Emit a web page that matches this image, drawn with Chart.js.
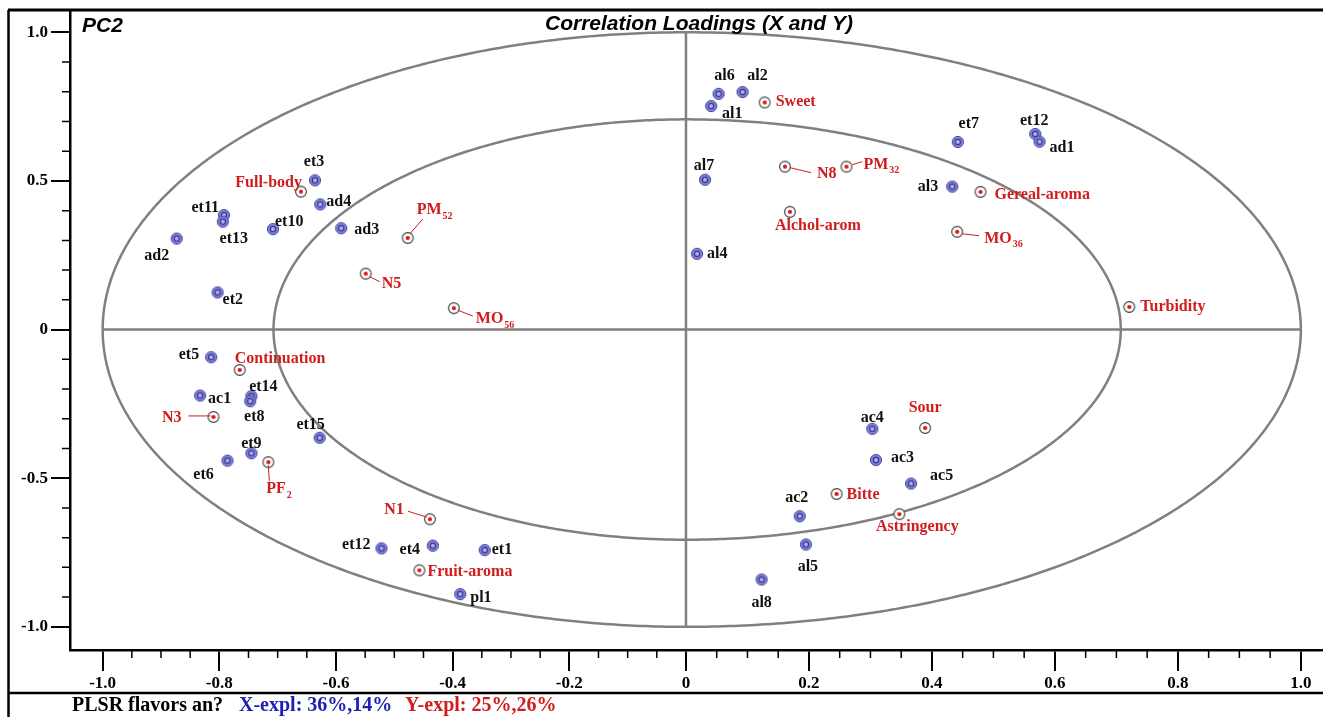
<!DOCTYPE html>
<html>
<head>
<meta charset="utf-8">
<script src="https://cdn.jsdelivr.net/npm/chart.js@4.4.1/dist/chart.umd.min.js"></script>
<style>
  html, body { margin: 0; padding: 0; background: #fff; }
  canvas { display: block; }
</style>
</head>
<body>
<canvas id="loadings" width="1323" height="717"></canvas>
<script>
// ---- X-variable loadings (PC1, PC2) ----
const xVarNames = ['al6','al2','al1','al7','al4','et7','et12','ad1','al3','et3','ad4','et11','et13','et10','ad3','ad2','et2','et5','ac1','et14','et8','et15','et9','et6','et12','et4','et1','pl1','ac4','ac3','ac5','ac2','al5','al8'];
const xVarPC1 = [0.053, 0.092, 0.041, 0.031, 0.018, 0.442, 0.568, 0.575, 0.433, -0.636, -0.627, -0.792, -0.794, -0.708, -0.591, -0.873, -0.803, -0.814, -0.833, -0.745, -0.747, -0.628, -0.745, -0.786, -0.522, -0.434, -0.345, -0.387, 0.303, 0.309, 0.366, 0.185, 0.195, 0.123];
const xVarPC2 = [0.793, 0.799, 0.752, 0.504, 0.255, 0.631, 0.658, 0.632, 0.481, 0.502, 0.421, 0.385, 0.363, 0.338, 0.341, 0.306, 0.125, -0.093, -0.222, -0.224, -0.241, -0.364, -0.416, -0.441, -0.736, -0.727, -0.742, -0.890, -0.334, -0.439, -0.518, -0.628, -0.723, -0.841];

// ---- Y-variable loadings (PC1, PC2) ----
const yVarNames = ['Sweet','N8','PM_32','Alchol-arom','Gereal-aroma','MO_36','Turbidity','PM_52','Full-body','N5','MO_56','Continuation','N3','PF_2','N1','Fruit-aroma','Sour','Bitte','Astringency'];
const yVarPC1 = [0.128, 0.161, 0.261, 0.169, 0.479, 0.441, 0.721, -0.477, -0.660, -0.549, -0.398, -0.765, -0.810, -0.716, -0.439, -0.457, 0.389, 0.245, 0.347];
const yVarPC2 = [0.764, 0.548, 0.548, 0.396, 0.463, 0.329, 0.076, 0.308, 0.464, 0.188, 0.072, -0.136, -0.294, -0.446, -0.638, -0.810, -0.331, -0.553, -0.621];

// ---- axes ----
const xTickValues = [-1.0, -0.8, -0.6, -0.4, -0.2, 0, 0.2, 0.4, 0.6, 0.8, 1.0];
const yTickValues = [-1.0, -0.5, 0, 0.5, 1.0];
const circleRadii = [1.0, Math.SQRT1_2];   // 100% and 50% explained variance

// label placement: [align, dx, dy] relative to the marker (align: l = start, c = centre, r = end)
const xLabelPlace = [
  ['c',6,-18],['c',15,-16],['c',21,8],['c',-1,-14],['l',10,0],['c',11,-18],['c',-1,-13],['l',10,6],['r',-14,0],
  ['c',-1,-18],['l',6,-3],['r',-5,-7],['c',11,17],['l',2,-7],['l',13,2],['c',-20,17],['l',5,7],['r',-12,-2],
  ['l',8,3],['c',12,-9],['c',4,16],['c',-9,-13],['c',0,-9],['c',-24,14],['r',-11,-3],['c',-23,4],['l',7,0],
  ['l',10,4],['c',0,-11],['l',15,-2],['l',19,-8],['c',-3,-18],['c',2,22],['c',0,23]
];
const yLabelPlace = [
  ['l',11,-1],['l',32,7],['l',17,-2],['c',28,14],['l',14,3],['l',27,7],['l',11,0],['l',9,-28],['r',1,-9],
  ['l',16,10],['l',22,11],['l',-5,-11],['r',-32,1],['l',-2,27],['r',-26,-9],['l',8,2],['c',0,-20],['l',10,1],['c',18,13]
];
// thin connector from marker to label, [x1,y1,x2,y2] relative to the marker
const yLeaders = [
  null,[5,1,26,6],[6,-2,16,-5],null,null,[5,2,22,4],null,[2,-4,15,-19],null,
  [4,3,14,8],[4,2,19,8],null,[-25,-1,-3,-1],[0,3,1,19],[-22,-8,-3,-2],null,null,null,null
];

const RED = '#d01c1c';
const BLUE_TXT = '#1e1eb0';
const GREY = '#808080';
const SERIF = '"Liberation Serif", "Times New Roman", serif';
const SANS = '"Liberation Sans", Arial, sans-serif';

// ---- linear scale that does not reserve extra room for edge labels ----
class TightLinearScale extends Chart.LinearScale {
  _calculatePadding() {
    this.paddingLeft = 0; this.paddingRight = 0;
    this.paddingTop = 0; this.paddingBottom = 0;
  }
}
TightLinearScale.id = 'tightLinear';
TightLinearScale.defaults = Chart.LinearScale.defaults;

// ---- x scale whose negative and positive halves have their own pixel density ----
class SplitLinearScale extends TightLinearScale {
  getPixelForValue(value) {
    if (value === null || value === undefined || isNaN(value)) return NaN;
    const f = this.options.zeroAt;
    const dec = value < 0
      ? f * (value - this.min) / (0 - this.min)
      : f + (1 - f) * value / this.max;
    return this.getPixelForDecimal(dec);
  }
  getValueForPixel(pixel) {
    const f = this.options.zeroAt;
    const dec = this.getDecimalForPixel(pixel);
    return dec < f ? this.min + (dec / f) * (0 - this.min) : (dec - f) / (1 - f) * this.max;
  }
}
SplitLinearScale.id = 'splitLinear';
SplitLinearScale.defaults = Chart.LinearScale.defaults;
Chart.register(TightLinearScale, SplitLinearScale);

// ---- marker sprites ----
function makeMarker(kind) {
  const c = document.createElement('canvas');
  c.width = 14; c.height = 14;
  const g = c.getContext('2d');
  if (kind === 'x') {
    g.beginPath(); g.arc(7, 7, 5.6, 0, Math.PI * 2);
    g.fillStyle = '#8282da'; g.fill();
    g.lineWidth = 1; g.strokeStyle = '#4a4aa6'; g.stroke();
    g.beginPath(); g.arc(7, 7, 2.6, 0, Math.PI * 2);
    g.fillStyle = '#b4b4f0'; g.fill();
    g.lineWidth = 1.2; g.strokeStyle = '#34348e'; g.stroke();
  } else {
    g.beginPath(); g.arc(7, 7, 5.4, 0, Math.PI * 2);
    g.fillStyle = '#ffffff'; g.fill();
    g.lineWidth = 1.1; g.strokeStyle = '#3a3a3a'; g.stroke();
    g.beginPath(); g.arc(7, 7, 2.1, 0, Math.PI * 2);
    g.fillStyle = '#e01010'; g.fill();
  }
  return c;
}

const fmtTick = v => (Math.abs(v) < 1e-9 ? '0' : v.toFixed(1));

function drawName(ctx, name, x, y, align, color) {
  const parts = name.split('_');
  const base = parts[0], sub = parts[1];
  const mainFont = 'bold 16px ' + SERIF, subFont = 'bold 10px ' + SERIF;
  ctx.font = mainFont;
  const wb = ctx.measureText(base).width;
  let ws = 0;
  if (sub) { ctx.font = subFont; ws = ctx.measureText(sub).width + 1; }
  const total = wb + ws;
  const left = align === 'l' ? x : (align === 'r' ? x - total : x - total / 2);
  ctx.fillStyle = color;
  ctx.textAlign = 'left';
  ctx.textBaseline = 'middle';
  ctx.font = mainFont;
  ctx.fillText(base, left, y);
  if (sub) { ctx.font = subFont; ctx.fillText(sub, left + wb + 1, y + 6); }
}

// circles and the two reference axes, drawn through the scales
const guidePlugin = {
  id: 'guides',
  beforeDatasetsDraw(chart) {
    const { ctx, scales: { x, y } } = chart;
    ctx.save();
    ctx.strokeStyle = GREY;
    ctx.lineWidth = 2.5;
    circleRadii.forEach(r => {
      ctx.beginPath();
      for (let i = 0; i <= 720; i++) {
        const t = i * Math.PI / 360;
        const px = x.getPixelForValue(r * Math.cos(t));
        const py = y.getPixelForValue(r * Math.sin(t));
        if (i === 0) ctx.moveTo(px, py); else ctx.lineTo(px, py);
      }
      ctx.closePath();
      ctx.stroke();
    });
    ctx.beginPath();
    ctx.moveTo(x.getPixelForValue(-1), y.getPixelForValue(0));
    ctx.lineTo(x.getPixelForValue(1), y.getPixelForValue(0));
    ctx.moveTo(x.getPixelForValue(0), y.getPixelForValue(-1));
    ctx.lineTo(x.getPixelForValue(0), y.getPixelForValue(1));
    ctx.stroke();
    ctx.restore();
  }
};

// variable names next to their markers
const labelPlugin = {
  id: 'names',
  afterDatasetsDraw(chart) {
    const ctx = chart.ctx;
    ctx.save();
    const xm = chart.getDatasetMeta(0).data;
    xm.forEach((el, i) => {
      const p = xLabelPlace[i];
      drawName(ctx, xVarNames[i], el.x + p[1], el.y + p[2], p[0], '#111');
    });
    const ym = chart.getDatasetMeta(1).data;
    ym.forEach((el, i) => {
      const p = yLabelPlace[i];
      const ln = yLeaders[i];
      if (ln) {
        ctx.strokeStyle = RED; ctx.lineWidth = 1;
        ctx.beginPath();
        ctx.moveTo(el.x + ln[0], el.y + ln[1]);
        ctx.lineTo(el.x + ln[2], el.y + ln[3]);
        ctx.stroke();
      }
      drawName(ctx, yVarNames[i], el.x + p[1], el.y + p[2], p[0], RED);
    });
    ctx.restore();
  }
};

// minor ticks, frame, headings and footer
const framePlugin = {
  id: 'frame',
  afterDraw(chart) {
    const { ctx, chartArea: a, scales: { x, y } } = chart;
    const W = chart.width, H = chart.height;
    ctx.save();
    ctx.strokeStyle = '#000';
    ctx.lineWidth = 1.5;
    ctx.beginPath();
    for (let k = -19; k <= 19; k++) {
      if (k % 4 === 0) continue;
      const px = x.getPixelForValue(k * 0.05);
      ctx.moveTo(px, a.bottom); ctx.lineTo(px, a.bottom + 8);
    }
    for (let k = -9; k <= 9; k++) {
      if (k % 5 === 0) continue;
      const py = y.getPixelForValue(k * 0.1);
      ctx.moveTo(a.left, py); ctx.lineTo(a.left - 8, py);
    }
    ctx.stroke();

    ctx.lineWidth = 3;
    ctx.beginPath();
    ctx.moveTo(8, a.top); ctx.lineTo(W, a.top);
    ctx.stroke();
    ctx.lineWidth = 2.5;
    ctx.beginPath();
    ctx.moveTo(8.5, a.top); ctx.lineTo(8.5, H);
    ctx.moveTo(8, 693); ctx.lineTo(W, 693);
    ctx.stroke();

    ctx.fillStyle = '#000';
    ctx.textBaseline = 'middle';
    ctx.font = 'italic bold 21px ' + SANS;
    ctx.textAlign = 'left';
    ctx.fillText('PC2', 82, 26);
    ctx.textAlign = 'center';
    ctx.fillText('Correlation Loadings (X and Y)', 699, 24);

    ctx.textAlign = 'left';
    ctx.font = 'bold 20px ' + SERIF;
    ctx.fillStyle = '#000';
    ctx.fillText('PLSR flavors an?', 72, 706);
    ctx.fillStyle = BLUE_TXT;
    ctx.fillText('X-expl: 36%,14%', 239, 706);
    ctx.fillStyle = RED;
    ctx.fillText('Y-expl: 25%,26%', 405, 706);
    ctx.restore();
  }
};

const xPoints = xVarPC1.map((v, i) => ({ x: v, y: xVarPC2[i] }));
const yPoints = yVarPC1.map((v, i) => ({ x: v, y: yVarPC2[i] }));

new Chart(document.getElementById('loadings'), {
  type: 'scatter',
  data: {
    datasets: [
      { label: 'X', data: xPoints, pointStyle: makeMarker('x'), pointRadius: 6 },
      { label: 'Y', data: yPoints, pointStyle: makeMarker('y'), pointRadius: 6 }
    ]
  },
  options: {
    responsive: false,
    animation: false,
    events: [],
    layout: { autoPadding: false, padding: { left: 8, top: 10, right: 0, bottom: 24 } },
    plugins: { legend: { display: false }, tooltip: { enabled: false }, title: { display: false } },
    scales: {
      x: {
        type: 'splitLinear',
        zeroAt: 0.4916,
        min: -1.056,
        max: 1.036,
        afterBuildTicks: s => { s.ticks = xTickValues.map(v => ({ value: v })); },
        afterFit: s => { s.height = 43; },
        grid: { drawOnChartArea: false, drawTicks: true, tickLength: 21, color: '#000', lineWidth: 2 },
        border: { display: true, color: '#000', width: 2.5 },
        ticks: {
          autoSkip: false, maxRotation: 0, padding: 2, color: '#000',
          font: { family: SERIF, weight: 'bold', size: 17 },
          callback: v => fmtTick(v)
        }
      },
      y: {
        type: 'tightLinear',
        min: -1.078,
        max: 1.075,
        afterBuildTicks: s => { s.ticks = yTickValues.map(v => ({ value: v })); },
        afterFit: s => { s.width = 62; },
        grid: { drawOnChartArea: false, drawTicks: true, tickLength: 19, color: '#000', lineWidth: 2 },
        border: { display: true, color: '#000', width: 2.5 },
        ticks: {
          autoSkip: false, padding: 3, color: '#000',
          font: { family: SERIF, weight: 'bold', size: 17 },
          callback: v => fmtTick(v)
        }
      }
    }
  },
  plugins: [guidePlugin, labelPlugin, framePlugin]
});
</script>
</body>
</html>
